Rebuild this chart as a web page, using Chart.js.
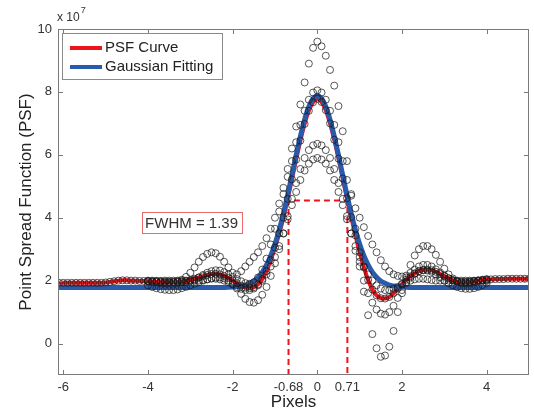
<!DOCTYPE html>
<html>
<head>
<meta charset="utf-8">
<title>Point Spread Function</title>
<script src="https://cdn.jsdelivr.net/npm/chart.js@4.4.1/dist/chart.umd.min.js"></script>
<style>
  html, body { margin: 0; padding: 0; background: #fff; }
  #wrap { width: 534px; height: 416px; }
</style>
</head>
<body>
<div id="wrap"><canvas id="psfChart" width="534" height="416"></canvas></div>
<script>
// sample positions (pixels) for the PSF curve and the gaussian fit
const pixels = [
  -6.1, -6.0, -5.9, -5.8, -5.7, -5.6, -5.5, -5.4, -5.3, -5.2,
  -5.1, -5.0, -4.9, -4.8, -4.7, -4.6, -4.5, -4.4, -4.3, -4.2,
  -4.1, -4.0, -3.9, -3.8, -3.7, -3.6, -3.5, -3.4, -3.3, -3.2,
  -3.1, -3.0, -2.9, -2.8, -2.7, -2.6, -2.5, -2.4, -2.3, -2.2,
  -2.1, -2.0, -1.9, -1.8, -1.7, -1.6, -1.5, -1.4, -1.3, -1.2,
  -1.1, -1.0, -0.9, -0.8, -0.7, -0.6, -0.5, -0.4, -0.3, -0.2,
  -0.1, 0.0, 0.1, 0.2, 0.3, 0.4, 0.5, 0.6, 0.7, 0.8,
  0.9, 1.0, 1.1, 1.2, 1.3, 1.4, 1.5, 1.6, 1.7, 1.8,
  1.9, 2.0, 2.1, 2.2, 2.3, 2.4, 2.5, 2.6, 2.7, 2.8,
  2.9, 3.0, 3.1, 3.2, 3.3, 3.4, 3.5, 3.6, 3.7, 3.8,
  3.9, 4.0, 4.1, 4.2, 4.3, 4.4, 4.5, 4.6, 4.7, 4.8,
  4.9, 5.0,
];

// PSF curve (x 10^7)
const psfCurve = [
  1.93, 1.93, 1.93, 1.93, 1.93, 1.93, 1.93, 1.93, 1.93, 1.93,
  1.93, 1.94, 1.96, 1.98, 2.00, 2.01, 2.01, 2.00, 2.00, 1.99,
  1.99, 1.98, 1.97, 1.96, 1.95, 1.95, 1.95, 1.95, 1.96, 1.97,
  1.99, 2.02, 2.06, 2.10, 2.14, 2.18, 2.21, 2.22, 2.20, 2.15,
  2.08, 2.00, 1.92, 1.84, 1.78, 1.76, 1.79, 1.88, 2.05, 2.30,
  2.65, 3.05, 3.50, 4.00, 4.60, 5.22, 5.85, 6.45, 6.98, 7.40,
  7.67, 7.78, 7.68, 7.42, 7.00, 6.48, 5.88, 5.25, 4.62, 4.02,
  3.44, 2.90, 2.42, 2.02, 1.72, 1.53, 1.44, 1.43, 1.48, 1.60,
  1.75, 1.90, 2.03, 2.14, 2.23, 2.30, 2.34, 2.35, 2.33, 2.28,
  2.21, 2.14, 2.07, 2.01, 1.97, 1.95, 1.95, 1.96, 1.98, 2.00,
  2.02, 2.03, 2.04, 2.05, 2.05, 2.05, 2.06, 2.06, 2.06, 2.06,
  2.06, 2.06,
];

// gaussian fitting (x 10^7)
const gaussFit = [
  1.78, 1.78, 1.78, 1.78, 1.78, 1.78, 1.78, 1.78, 1.78, 1.78,
  1.78, 1.78, 1.78, 1.78, 1.78, 1.78, 1.78, 1.78, 1.78, 1.78,
  1.78, 1.78, 1.78, 1.78, 1.78, 1.78, 1.78, 1.78, 1.78, 1.78,
  1.78, 1.78, 1.78, 1.78, 1.78, 1.78, 1.78, 1.78, 1.78, 1.78,
  1.79, 1.80, 1.81, 1.83, 1.86, 1.92, 1.99, 2.11, 2.27, 2.50,
  2.79, 3.16, 3.61, 4.14, 4.72, 5.35, 5.99, 6.59, 7.12, 7.53,
  7.79, 7.88, 7.79, 7.53, 7.12, 6.59, 5.99, 5.35, 4.72, 4.14,
  3.61, 3.16, 2.79, 2.50, 2.27, 2.11, 1.99, 1.92, 1.86, 1.83,
  1.81, 1.80, 1.79, 1.78, 1.78, 1.78, 1.78, 1.78, 1.78, 1.78,
  1.78, 1.78, 1.78, 1.78, 1.78, 1.78, 1.78, 1.78, 1.78, 1.78,
  1.78, 1.78, 1.78, 1.78, 1.78, 1.78, 1.78, 1.78, 1.78, 1.78,
  1.78, 1.78,
];

// raw samples around the peak (pixels -4.0 .. 4.0)
const corePixels = [
  -4.0, -3.9, -3.8, -3.7, -3.6, -3.5, -3.4, -3.3, -3.2, -3.1,
  -3.0, -2.9, -2.8, -2.7, -2.6, -2.5, -2.4, -2.3, -2.2, -2.1,
  -2.0, -1.9, -1.8, -1.7, -1.6, -1.5, -1.4, -1.3, -1.2, -1.1,
  -1.0, -0.9, -0.8, -0.7, -0.6, -0.5, -0.4, -0.3, -0.2, -0.1,
  0.0, 0.1, 0.2, 0.3, 0.4, 0.5, 0.6, 0.7, 0.8, 0.9,
  1.0, 1.1, 1.2, 1.3, 1.4, 1.5, 1.6, 1.7, 1.8, 1.9,
  2.0, 2.1, 2.2, 2.3, 2.4, 2.5, 2.6, 2.7, 2.8, 2.9,
  3.0, 3.1, 3.2, 3.3, 3.4, 3.5, 3.6, 3.7, 3.8, 3.9,
  4.0,
];

const samplesTall = [
  1.98, 1.96, 1.95, 1.94, 1.93, 1.93, 1.95, 1.98, 2.03, 2.12,
  2.25, 2.42, 2.60, 2.75, 2.85, 2.90, 2.87, 2.76, 2.60, 2.42,
  2.25, 2.20, 2.30, 2.45, 2.60, 2.75, 2.90, 3.10, 3.35, 3.65,
  4.00, 4.45, 4.95, 5.55, 6.20, 6.90, 7.60, 8.30, 8.90, 9.40,
  9.60, 9.45, 9.15, 8.70, 8.20, 7.55, 6.75, 5.80, 4.75, 3.65,
  2.60, 1.65, 0.90, 0.30, -0.15, -0.42, -0.38, -0.10, 0.40, 1.00,
  1.60, 2.10, 2.50, 2.80, 3.00, 3.10, 3.10, 3.00, 2.82, 2.60,
  2.38, 2.20, 2.07, 1.98, 1.93, 1.92, 1.93, 1.95, 1.98, 2.00,
  2.02,
];

const samplesUpper = [
  2.00, 2.00, 1.99, 1.98, 1.97, 1.96, 1.95, 1.95, 1.95, 1.95,
  1.98, 2.03, 2.10, 2.18, 2.25, 2.30, 2.33, 2.32, 2.27, 2.20,
  2.12, 2.05, 1.98, 1.92, 1.90, 1.95, 2.10, 2.35, 2.70, 3.15,
  3.65, 4.20, 4.75, 5.30, 5.80, 6.40, 6.95, 7.40, 7.75, 7.98,
  8.05, 7.98, 7.75, 7.40, 6.95, 6.40, 5.80, 5.20, 4.70, 4.30,
  4.00, 3.70, 3.42, 3.15, 2.90, 2.65, 2.45, 2.30, 2.20, 2.15,
  2.13, 2.16, 2.25, 2.35, 2.45, 2.50, 2.50, 2.45, 2.36, 2.26,
  2.16, 2.08, 2.02, 1.98, 1.96, 1.96, 1.97, 1.99, 2.01, 2.03,
  2.05,
];

const samplesMiddle = [
  1.85, 1.80, 1.76, 1.73, 1.71, 1.70, 1.70, 1.72, 1.76, 1.80,
  1.85, 1.90, 1.95, 2.00, 2.04, 2.08, 2.10, 2.10, 2.07, 2.00,
  1.90, 1.75, 1.58, 1.42, 1.32, 1.30, 1.38, 1.55, 1.80, 2.15,
  2.55, 3.00, 3.50, 4.05, 4.60, 5.10, 5.55, 5.90, 6.15, 6.30,
  6.35, 6.30, 6.15, 5.90, 5.55, 5.10, 4.60, 4.05, 3.50, 2.95,
  2.45, 2.00, 1.60, 1.30, 1.08, 0.95, 0.92, 1.00, 1.20, 1.45,
  1.70, 1.92, 2.10, 2.22, 2.30, 2.33, 2.32, 2.28, 2.20, 2.10,
  2.00, 1.92, 1.85, 1.80, 1.76, 1.74, 1.74, 1.76, 1.80, 1.86,
  1.92,
];

const samplesLower = [
  1.98, 1.98, 1.99, 1.99, 2.00, 2.00, 2.00, 2.00, 2.00, 2.00,
  2.00, 2.00, 2.00, 2.02, 2.04, 2.06, 2.06, 2.04, 2.00, 1.95,
  1.88, 1.80, 1.74, 1.70, 1.70, 1.75, 1.85, 2.00, 2.20, 2.45,
  2.75, 3.10, 3.50, 3.95, 4.40, 4.82, 5.20, 5.50, 5.72, 5.85,
  5.90, 5.85, 5.72, 5.50, 5.20, 4.82, 4.40, 3.95, 3.50, 3.10,
  2.75, 2.45, 2.20, 2.00, 1.85, 1.75, 1.70, 1.70, 1.74, 1.80,
  1.88, 1.95, 2.00, 2.04, 2.06, 2.06, 2.04, 2.02, 2.00, 2.00,
  2.00, 2.00, 2.00, 2.00, 2.00, 2.00, 2.00, 2.00, 2.00, 2.00,
  1.99,
];

const xMajorTicks = [-6, -4, -2, 0, 2, 4];
const fwhmEdges = [-0.68, 0.71];
const yTicks = [0, 2, 4, 6, 8, 10];
const halfMax = 4.55;
const fwhmLabel = "FWHM = 1.39";
const fwhmLabelPos = [-2.97, 3.84];

const FONT = '"Liberation Sans", Arial, Helvetica, sans-serif';
const RED = "#ee141c";
const BLUE = "#2a5aab";
const CIRCLE = "rgba(25,25,25,0.72)";

const toPoints = (xs, ys) => xs.map((x, i) => ({ x: x, y: ys[i] }));

const fwhmPath = [
  { x: fwhmEdges[0], y: -1 },
  { x: fwhmEdges[0], y: halfMax },
  { x: fwhmEdges[1], y: halfMax },
  { x: fwhmEdges[1], y: -1 },
];

const circleSet = (data) => ({
  data: data,
  showLine: false,
  pointStyle: "circle",
  pointRadius: 3.5,
  pointBorderWidth: 1,
  pointBorderColor: CIRCLE,
  pointBackgroundColor: "rgba(0,0,0,0)",
  order: 1,
});

// MATLAB-like frame, inner ticks, legend and annotations
const framePlugin = {
  id: "framePlugin",
  afterDraw(chart) {
    const { ctx, chartArea: a, scales } = chart;
    const x = scales.x;
    const y = scales.y;
    ctx.save();

    ctx.strokeStyle = "#7a7a7a";
    ctx.lineWidth = 1;
    ctx.strokeRect(a.left + 0.5, a.top + 0.5, a.right - a.left - 1, a.bottom - a.top - 1);

    ctx.beginPath();
    xMajorTicks.forEach((v) => {
      const px = Math.round(x.getPixelForValue(v)) + 0.5;
      ctx.moveTo(px, a.bottom);
      ctx.lineTo(px, a.bottom - 5);
      ctx.moveTo(px, a.top);
      ctx.lineTo(px, a.top + 5);
    });
    yTicks.forEach((v) => {
      const py = Math.round(y.getPixelForValue(v)) + 0.5;
      ctx.moveTo(a.left, py);
      ctx.lineTo(a.left + 5, py);
      ctx.moveTo(a.right, py);
      ctx.lineTo(a.right - 5, py);
    });
    ctx.stroke();

    // exponent label
    ctx.fillStyle = "#333";
    ctx.textBaseline = "alphabetic";
    ctx.textAlign = "left";
    ctx.font = "12px " + FONT;
    ctx.fillText("x 10", a.left - 1, a.top - 8);
    const w = ctx.measureText("x 10").width;
    ctx.font = "9px " + FONT;
    ctx.fillText("7", a.left + w, a.top - 16);

    // legend
    const lx = a.left + 4;
    const ly = a.top + 4;
    ctx.fillStyle = "#fff";
    ctx.fillRect(lx, ly, 160, 46);
    ctx.strokeStyle = "#8a8a8a";
    ctx.strokeRect(lx + 0.5, ly + 0.5, 160, 46);
    ctx.lineWidth = 4;
    ctx.lineCap = "butt";
    ctx.strokeStyle = RED;
    ctx.beginPath();
    ctx.moveTo(lx + 8, ly + 15);
    ctx.lineTo(lx + 40, ly + 15);
    ctx.stroke();
    ctx.strokeStyle = BLUE;
    ctx.beginPath();
    ctx.moveTo(lx + 8, ly + 34);
    ctx.lineTo(lx + 40, ly + 34);
    ctx.stroke();
    ctx.fillStyle = "#222";
    ctx.font = "15px " + FONT;
    ctx.textBaseline = "middle";
    ctx.fillText("PSF Curve", lx + 43, ly + 15);
    ctx.fillText("Gaussian Fitting", lx + 43, ly + 34);

    // FWHM annotation
    const cx = x.getPixelForValue(fwhmLabelPos[0]);
    const cy = y.getPixelForValue(fwhmLabelPos[1]);
    ctx.fillStyle = "#fff";
    ctx.fillRect(cx - 50, cy - 10.5, 100, 21);
    ctx.lineWidth = 1;
    ctx.strokeStyle = "rgba(230,70,70,0.8)";
    ctx.strokeRect(Math.round(cx - 50) + 0.5, Math.round(cy - 10.5) + 0.5, 100, 21);
    ctx.fillStyle = "#333";
    ctx.textAlign = "center";
    ctx.fillText(fwhmLabel, cx, cy + 1);

    ctx.restore();
  },
};

new Chart(document.getElementById("psfChart"), {
  type: "scatter",
  data: {
    datasets: [
      {
        label: "FWHM",
        data: fwhmPath,
        showLine: true,
        borderColor: RED,
        borderWidth: 2,
        borderDash: [6, 4],
        pointRadius: 0,
        order: 5,
      },
      {
        label: "PSF Curve",
        data: toPoints(pixels, psfCurve),
        showLine: true,
        borderColor: RED,
        borderWidth: 4,
        pointRadius: 0,
        cubicInterpolationMode: "monotone",
        order: 4,
      },
      {
        label: "Gaussian Fitting",
        data: toPoints(pixels, gaussFit),
        showLine: true,
        borderColor: BLUE,
        borderWidth: 5,
        pointRadius: 0,
        cubicInterpolationMode: "monotone",
        order: 3,
      },
      circleSet(toPoints(pixels, psfCurve)),
      circleSet(toPoints(corePixels, samplesTall)),
      circleSet(toPoints(corePixels, samplesUpper)),
      circleSet(toPoints(corePixels, samplesMiddle)),
      circleSet(toPoints(corePixels, samplesLower)),
    ],
  },
  options: {
    responsive: false,
    animation: false,
    events: [],
    layout: { padding: { top: 29, right: 4, left: 0, bottom: 0 } },
    plugins: {
      legend: { display: false },
      tooltip: { enabled: false },
    },
    scales: {
      x: {
        type: "linear",
        min: -6.125,
        max: 5,
        afterBuildTicks: (axis) => {
          axis.ticks = [...xMajorTicks, ...fwhmEdges]
            .sort((a, b) => a - b)
            .map((v) => ({ value: v }));
        },
        afterFit: (axis) => {
          axis.height = 41;
        },
        grid: { display: false, drawTicks: false },
        border: { display: false },
        ticks: {
          autoSkip: false,
          maxRotation: 0,
          padding: 5,
          color: "#333",
          font: { family: FONT, size: 13 },
          callback: (v) => String(v),
        },
        title: {
          display: true,
          text: "Pixels",
          color: "#222",
          font: { family: FONT, size: 17 },
          padding: { top: 0, bottom: 3 },
        },
      },
      y: {
        type: "linear",
        min: -1,
        max: 10,
        afterBuildTicks: (axis) => {
          axis.ticks = yTicks.map((v) => ({ value: v }));
        },
        afterFit: (axis) => {
          axis.width = 58;
        },
        grid: { display: false, drawTicks: false },
        border: { display: false },
        ticks: {
          padding: 6,
          color: "#333",
          font: { family: FONT, size: 13 },
          callback: (v) => String(v),
        },
        title: {
          display: true,
          text: "Point Spread Function (PSF)",
          color: "#222",
          font: { family: FONT, size: 17 },
          padding: { top: 16, bottom: 0 },
        },
      },
    },
  },
  plugins: [framePlugin],
});
</script>
</body>
</html>
